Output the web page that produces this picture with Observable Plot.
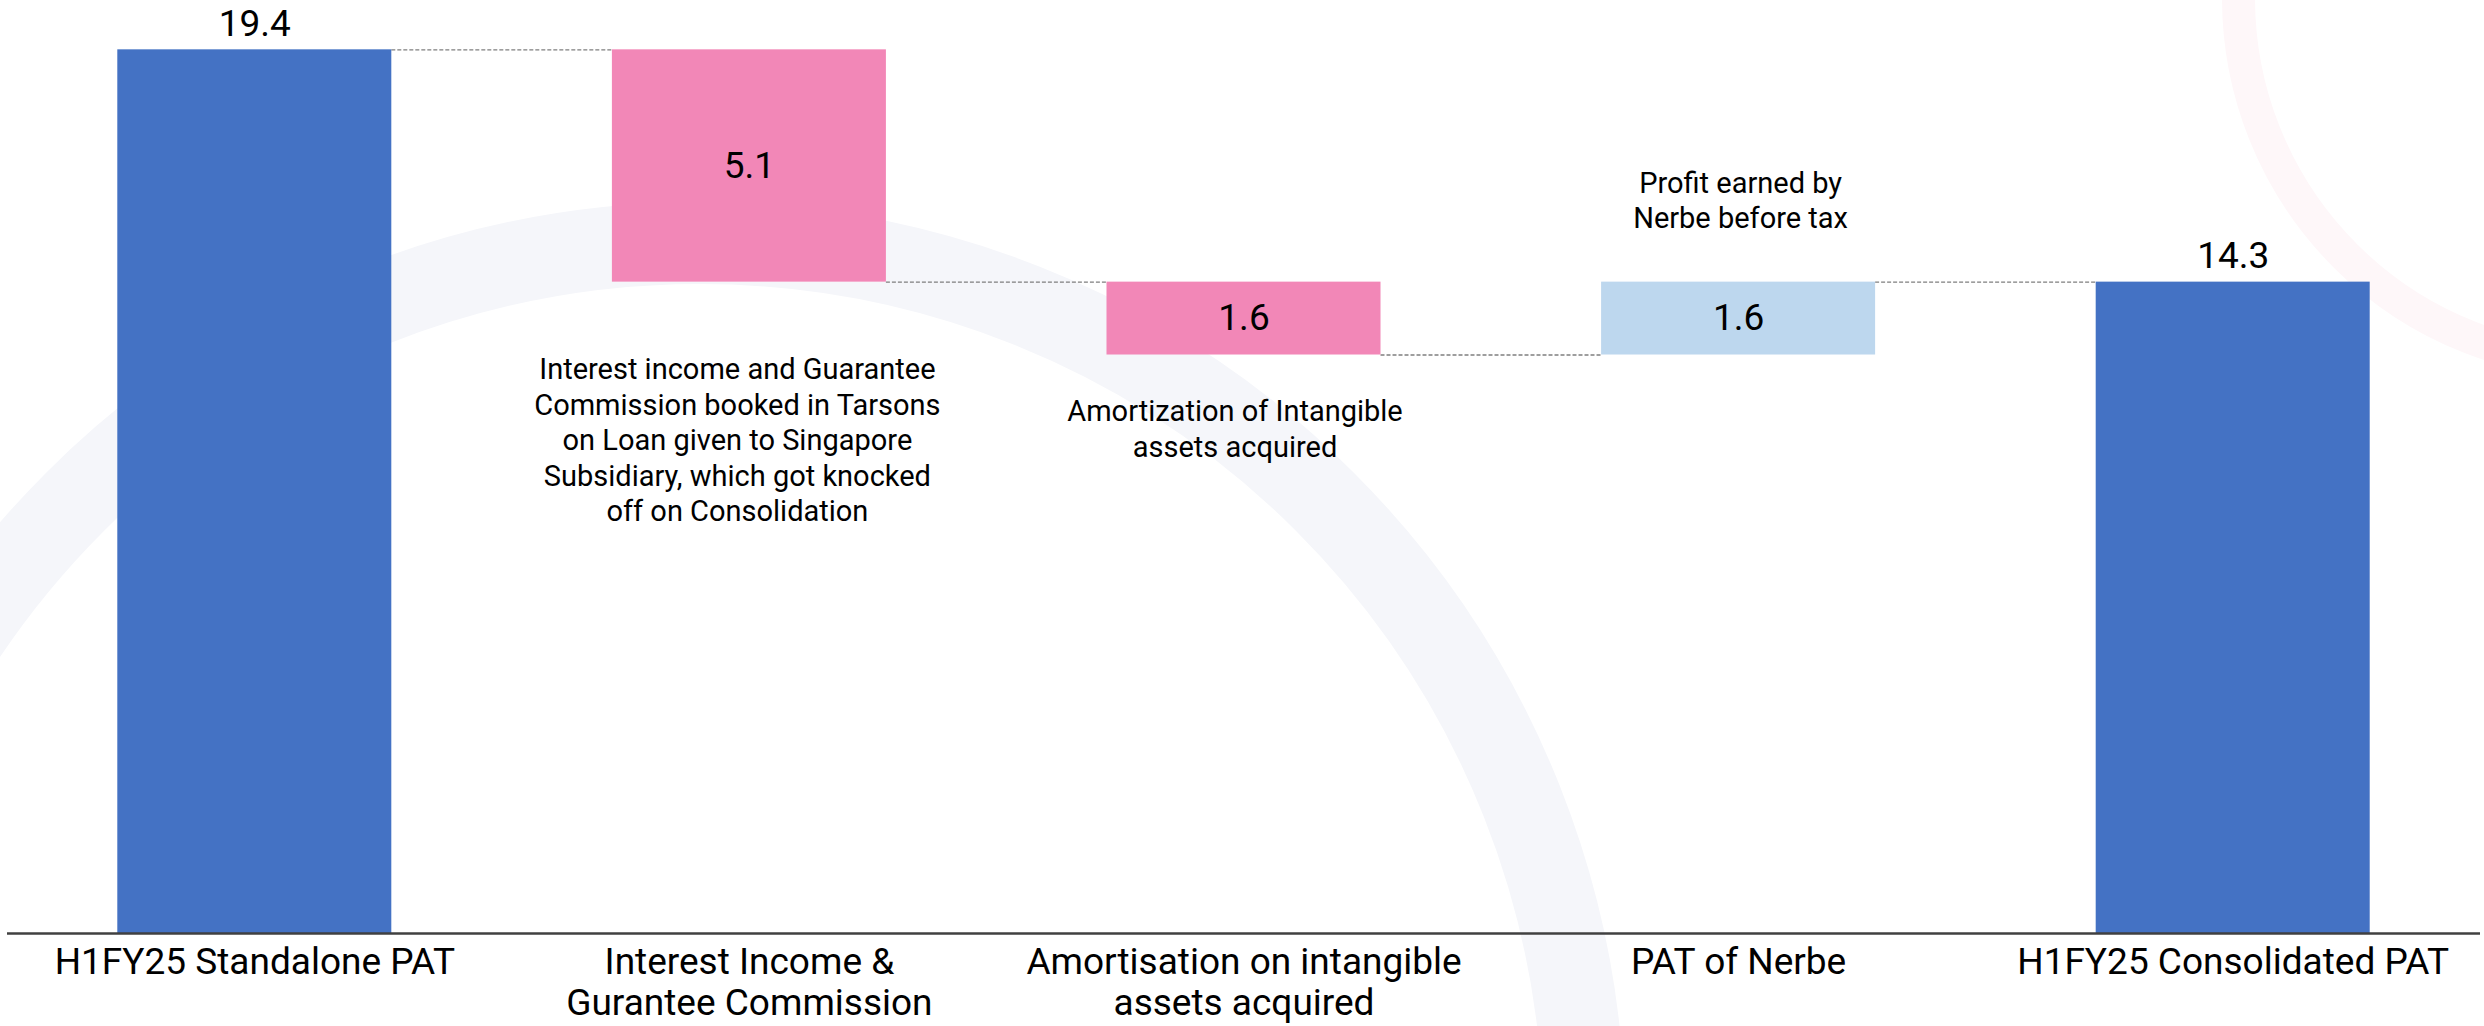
<!DOCTYPE html>
<html><head><meta charset="utf-8">
<script src="https://cdn.jsdelivr.net/npm/d3@7"></script>
<script src="https://cdn.jsdelivr.net/npm/@observablehq/plot@0.6"></script>
<style>
html,body{margin:0;padding:0;background:#fff;}
#wrap{position:relative;width:2484px;height:1026px;overflow:hidden;background:#fff;font-family:Roboto,sans-serif;}
.ring{position:absolute;border-radius:50%;box-sizing:border-box;}
#ringA{left:-225px;top:202px;width:1850px;height:1850px;border:82px solid #f5f6fa;}
#ringB{left:2222px;top:-383px;width:762px;height:762px;border:33px solid #fef7f9;}
#chart{position:absolute;left:0;top:0;}
</style></head><body>
<div id="wrap"><div class="ring" id="ringA"></div><div class="ring" id="ringB"></div><div id="chart"></div></div>
<script>
// ---- data ----
const categories = [
  "H1FY25 Standalone PAT",
  "Interest Income &\nGurantee Commission",
  "Amortisation on intangible\nassets acquired",
  "PAT of Nerbe",
  "H1FY25 Consolidated PAT"
];
const values = [19.4, -5.1, -1.6, 1.6, 14.3];
const kinds = ["total", "decrease", "decrease", "increase", "total"];
const noteBelow2 = "Interest income and Guarantee\nCommission booked in Tarsons\non Loan given to Singapore\nSubsidiary, which got knocked\noff on Consolidation";
const noteBelow3 = "Amortization of Intangible\nassets acquired";
const noteAbove4 = "Profit earned by\nNerbe before tax";

// ---- derived waterfall table ----
let run = 0;
const bars = categories.map((c, i) => {
  let y1, y2;
  if (kinds[i] === "total") { y1 = 0; y2 = values[i]; }
  else { y1 = run; y2 = run + values[i]; }
  run = y2;
  return {i, c, kind: kinds[i], y1, y2, lo: Math.min(y1, y2), hi: Math.max(y1, y2), v: values[i]};
});
const hw = 0.277; // half bar width in band units
const connectors = bars.slice(0, -1).map((b, k) => ({y: b.y2, x1: b.i + hw, x2: bars[k + 1].i - hw}));
const totals = bars.filter(b => b.kind === "total");
const deltas = bars.filter(b => b.kind !== "total");

const colors = {total: "#4472c4", decrease: "#f287b7", increase: "#bdd7ee"};

const chart = Plot.plot({
  width: 2484,
  height: 1026,
  marginLeft: 7,
  marginRight: 4,
  marginTop: 22,
  marginBottom: 93,
  style: {background: "transparent", fontFamily: "Roboto, sans-serif", color: "#000", fontSize: "37px"},
  x: {type: "linear", domain: [-0.5, 4.5], axis: null},
  y: {domain: [0, 20], axis: null},
  marks: [
    Plot.ruleY(connectors, {y: "y", x1: "x1", x2: "x2", stroke: "#7f7f7f", strokeWidth: 1.3, strokeDasharray: "4,2"}),
    Plot.rectY(bars, {x1: d => d.i - hw, x2: d => d.i + hw, y1: "lo", y2: "hi", fill: d => colors[d.kind]}),
    Plot.ruleY([0], {stroke: "#404040", strokeWidth: 2.5}),
    Plot.text(totals, {x: "i", y: "hi", text: d => d.v.toFixed(1), lineAnchor: "bottom", dy: -14, fontSize: 37, fill: "#000"}),
    Plot.text(deltas, {x: "i", y: d => (d.lo + d.hi) / 2, text: d => Math.abs(d.v).toFixed(1), lineAnchor: "middle", fontSize: 37, fill: "#000"}),
    Plot.text([bars[1]], {x: "i", y: "lo", text: () => noteBelow2, lineAnchor: "top", dy: 72, dx: -12, fontSize: 29, lineHeight: 1.225, fill: "#000"}),
    Plot.text([bars[2]], {x: "i", y: "lo", text: () => noteBelow3, lineAnchor: "top", dy: 41, dx: -9, fontSize: 29, lineHeight: 1.225, fill: "#000"}),
    Plot.text([bars[3]], {x: "i", y: "hi", text: () => noteAbove4, lineAnchor: "bottom", dy: -54, dx: 2, fontSize: 29, lineHeight: 1.225, fill: "#000"}),
    Plot.axisX({ticks: d3.range(categories.length), tickFormat: i => categories[i], tickSize: 0, tickPadding: 12, fontSize: 37, lineHeight: 1.1, fill: "#000"})
  ]
});
document.getElementById("chart").appendChild(chart);
</script>
</body></html>
